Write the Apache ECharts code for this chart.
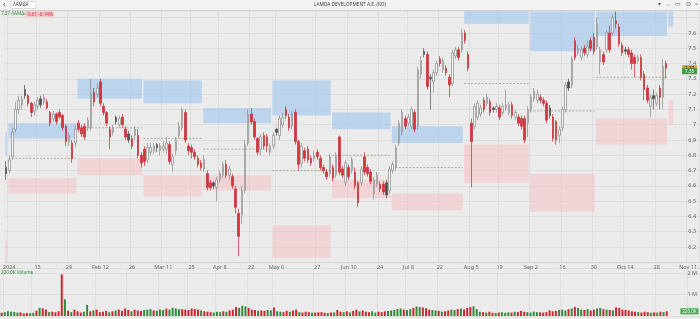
<!DOCTYPE html>
<html><head><meta charset="utf-8">
<script src="https://cdn.jsdelivr.net/npm/echarts@6/dist/echarts.min.js"></script>
<style>html,body{margin:0;padding:0;background:#ebebeb;overflow:hidden}#c{width:700px;height:319px}</style>
</head><body><div id="c"></div>
<script>
// ---- calendar (trading days, exchange holidays removed) ----
const firstDay = '2023-12-29';
const lastDay = '2024-11-14';
const holidays = ['2024-01-01','2024-03-18','2024-03-25','2024-05-01','2024-05-03','2024-05-06','2024-05-07','2024-06-24','2024-08-15'];
function tradingDays(a, b, skip) {
  const out = []; const d = new Date(a + 'T00:00:00Z'); const end = new Date(b + 'T00:00:00Z');
  while (d <= end) { const s = d.toISOString().slice(0, 10); const w = d.getUTCDay();
    if (w !== 0 && w !== 6 && skip.indexOf(s) < 0) out.push(s); d.setUTCDate(d.getUTCDate() + 1); }
  return out;
}
const dates = tradingDays(firstDay, lastDay, holidays);

// ---- x tick labels ----
const tickDates = ['2024-01-02','2024-01-15','2024-01-29','2024-02-12','2024-02-26','2024-03-11','2024-03-26','2024-04-08','2024-04-22','2024-05-08','2024-05-27','2024-06-10','2024-06-25','2024-07-08','2024-07-22','2024-08-05','2024-08-19','2024-09-02','2024-09-16','2024-09-30','2024-10-14','2024-10-28','2024-11-11'];
const tickTexts = ['2024','15','29','Feb 12','26','Mar 11','25','Apr 8','22','May 6','27','Jun 10','24','Jul 8','22','Aug 5','19','Sep 2','16','30','Oct 14','28','Nov 11'];

// ---- daily candles [open, close, low, high] ----
const candles = [
[6.72,6.68,6.64,6.76],[6.70,6.77,6.68,6.80],[6.79,6.95,6.77,6.98],[6.97,7.10,6.95,7.15],[7.10,7.16,7.07,7.19],
[7.13,7.17,7.10,7.19],[7.23,7.19,7.17,7.26],[7.19,7.14,7.12,7.20],[7.14,7.08,7.05,7.15],[7.09,7.13,7.06,7.15],
[7.12,7.16,7.10,7.18],[7.17,7.13,7.11,7.19],[7.15,7.18,7.13,7.20],[7.15,7.11,7.10,7.17],[7.08,7.01,6.99,7.09],
[7.04,7.07,7.02,7.09],[7.07,7.02,7.00,7.08],[7.08,7.05,7.04,7.10],[7.06,6.98,6.96,7.07],[6.99,6.89,6.86,7.00],
[6.89,6.93,6.86,6.95],[6.88,6.78,6.75,6.90],[6.88,6.97,6.85,7.00],[7.01,6.97,6.95,7.03],[6.98,6.94,6.92,7.00],
[6.99,6.92,6.90,7.01],[6.98,7.03,6.96,7.05],[6.98,7.20,6.96,7.30],[7.21,7.15,7.12,7.24],[7.20,7.24,7.18,7.27],
[7.28,7.14,7.12,7.30],[7.12,7.08,7.06,7.14],[7.08,7.01,6.99,7.09],[6.97,6.92,6.84,6.99],[6.95,6.98,6.93,7.00],
[7.05,7.02,7.00,7.06],[7.00,7.04,6.98,7.06],[7.05,7.00,6.98,7.07],[6.97,6.92,6.90,6.99],[6.94,6.90,6.88,6.96],
[6.91,6.86,6.84,6.93],[6.93,6.97,6.90,6.99],[6.93,6.80,6.78,6.97],[6.80,6.75,6.72,6.82],[6.84,6.76,6.73,6.86],
[6.77,6.85,6.75,6.88],[6.82,6.85,6.80,6.88],[6.83,6.86,6.81,6.88],[6.87,6.85,6.82,6.88],[6.83,6.86,6.80,6.88],
[6.84,6.86,6.82,6.89],[6.84,6.88,6.81,6.92],[6.87,6.76,6.74,6.89],[6.74,6.79,6.69,6.81],[6.83,6.90,6.80,6.92],
[6.93,6.99,6.91,7.02],[6.98,7.10,6.96,7.11],[7.08,6.90,6.88,7.10],[6.86,6.83,6.80,6.88],[6.85,6.82,6.78,6.87],
[6.82,6.79,6.77,6.84],[6.78,6.74,6.72,6.80],[6.75,6.72,6.70,6.77],[6.71,6.77,6.69,6.80],[6.68,6.59,6.57,6.70],
[6.62,6.59,6.57,6.64],[6.62,6.60,6.58,6.63],[6.59,6.64,6.50,6.66],[6.64,6.68,6.62,6.70],[6.67,6.74,6.65,6.76],
[6.74,6.67,6.65,6.77],[6.67,6.71,6.64,6.73],[6.66,6.60,6.58,6.68],[6.58,6.46,6.42,6.60],
[6.42,6.27,6.14,6.45],[6.41,6.57,6.35,6.60],[6.57,6.87,6.55,6.90],[6.88,7.07,6.86,7.10],[7.07,7.02,7.00,7.11],
[7.02,6.92,6.90,7.04],[6.91,6.82,6.80,6.92],[6.84,6.92,6.80,6.94],[6.93,6.86,6.84,6.95],[6.92,6.86,6.82,6.94],
[6.82,6.86,6.80,6.88],[6.86,6.93,6.84,6.95],[6.97,6.95,6.93,6.98],[6.93,7.04,6.90,7.06],[7.00,7.05,6.98,7.08],
[7.10,7.06,7.04,7.12],[7.05,6.98,6.96,7.07],[6.99,7.07,6.97,7.09],[7.08,6.89,6.87,7.10],[6.89,6.74,6.70,6.90],
[6.75,6.86,6.72,6.88],[6.83,6.78,6.76,6.85],[6.84,6.77,6.75,6.86],[6.78,6.75,6.73,6.80],[6.78,6.80,6.76,6.83],
[6.82,6.79,6.77,6.84],[6.78,6.72,6.70,6.80],[6.72,6.70,6.68,6.74],[6.69,6.66,6.64,6.71],[6.68,6.79,6.66,6.81],
[6.72,6.65,6.63,6.74],[6.67,6.79,6.65,6.82],[6.92,6.69,6.67,6.93],[6.71,6.67,6.65,6.73],[6.62,6.75,6.60,6.77],
[6.72,6.66,6.64,6.74],[6.70,6.77,6.68,6.79],[6.69,6.60,6.58,6.72],[6.62,6.49,6.46,6.63],[6.62,6.71,6.60,6.73],
[6.79,6.69,6.67,6.82],[6.72,6.68,6.66,6.74],[6.69,6.63,6.61,6.71],[6.55,6.64,6.51,6.66],[6.61,6.67,6.59,6.69],
[6.61,6.58,6.56,6.63],[6.61,6.56,6.54,6.63],[6.62,6.54,6.52,6.64],[6.57,6.71,6.55,6.73],[6.70,6.74,6.68,6.76],
[6.72,6.85,6.70,6.87],[6.88,7.01,6.86,7.03],[6.95,7.08,6.93,7.10],[7.04,6.99,6.97,7.06],[7.01,7.05,6.99,7.07],
[6.99,7.10,6.97,7.12],[7.08,6.97,6.95,7.10],[6.99,7.36,6.97,7.38],[7.33,7.42,7.30,7.45],
[7.48,7.46,7.44,7.50],[7.46,7.25,7.23,7.48],[7.31,7.30,7.10,7.33],[7.28,7.34,7.21,7.36],[7.34,7.40,7.32,7.42],
[7.43,7.40,7.38,7.45],[7.36,7.42,7.34,7.44],[7.37,7.34,7.32,7.39],[7.31,7.26,7.18,7.33],[7.27,7.47,7.25,7.49],
[7.45,7.49,7.43,7.51],[7.49,7.44,7.42,7.51],[7.49,7.60,7.47,7.63],[7.60,7.55,7.53,7.62],[7.46,7.37,7.35,7.48],
[7.01,6.89,6.59,7.04],[6.99,7.12,6.97,7.14],[7.05,7.14,7.03,7.16],[7.07,7.11,7.05,7.13],[7.16,7.10,7.08,7.18],
[7.14,7.18,7.12,7.20],[7.15,7.08,7.06,7.17],[7.11,7.10,7.08,7.12],[7.10,7.12,7.08,7.14],[7.11,7.05,7.03,7.13],
[7.08,7.12,7.06,7.14],[7.11,7.13,7.09,7.23],[7.08,7.13,7.06,7.15],[7.13,7.06,7.04,7.15],[7.05,7.08,7.03,7.10],
[7.05,7.01,6.99,7.07],[7.04,6.99,6.97,7.06],[7.04,6.90,6.88,7.06],[7.01,7.10,6.92,7.12],[7.10,7.18,7.08,7.20],
[7.17,7.22,7.15,7.24],[7.16,7.20,7.14,7.23],[7.18,7.16,7.14,7.20],[7.16,7.14,7.12,7.18],[7.14,7.03,7.01,7.16],
[7.11,7.06,7.04,7.13],[7.05,6.91,6.89,7.07],[7.02,6.90,6.87,7.03],[6.93,6.97,6.88,6.99],[6.98,7.10,6.96,7.12],
[7.10,7.26,7.08,7.28],[7.28,7.24,7.22,7.30],[7.26,7.43,7.24,7.45],[7.55,7.44,7.42,7.57],[7.47,7.50,7.45,7.52],
[7.44,7.49,7.42,7.51],[7.50,7.47,7.45,7.52],[7.46,7.51,7.44,7.55],[7.55,7.50,7.48,7.57],[7.57,7.48,7.46,7.60],
[7.51,7.66,7.49,7.70],[7.41,7.49,7.33,7.51],[7.46,7.41,7.39,7.48],[7.49,7.60,7.47,7.62],[7.60,7.49,7.47,7.65],
[7.60,7.70,7.58,7.72],[7.68,7.66,7.63,7.74],[7.64,7.53,7.51,7.66],[7.52,7.47,7.45,7.54],[7.49,7.48,7.46,7.51],
[7.49,7.46,7.44,7.51],[7.47,7.40,7.36,7.49],[7.44,7.40,7.31,7.46],[7.42,7.44,7.40,7.46],[7.44,7.31,7.29,7.46],
[7.33,7.23,7.16,7.35],[7.24,7.16,7.14,7.26],[7.12,7.18,7.05,7.20],[7.19,7.17,7.10,7.23],[7.14,7.19,7.12,7.21],
[7.24,7.18,7.10,7.26],[7.18,7.38,7.10,7.43],[7.40,7.37,7.30,7.42]
];
// candles drawn dark grey (filled, small move)
const darkIdx = [0,6,11,35,39,48,66,86,121,133,135,155,173,179,197,206];

// ---- daily volume (thousands of shares) ----
const volumes = [
150,180,220,200,190,160,170,120,140,130,150,
250,380,360,300, 180,200,170,220, 1950,780,
250,180,300,220,160,200, 520,
220,260,300,180,200,240,170,
220,260,300,250,350,280,220,300,260,240,
280,300,320,260,250,300,280,350,300,380,350,320,
320,300,280,350,330,300,260,
220,200,180,160,200,180,220,200,260,300,
420,380,480,450,380,
300,280,250,260,240,280,260,400,
220,200,180,240,200,260,300,180,160,200,180,150,160,170,180,150,140,160,170,
280,200,180,220,160,240,300,220,260,200,180,220,160,200,180,220,240,260,280,320,
350,300,280,320,380,450,420,400,360,
300,280,260,240,200,220,260,300,280,320,350,300,
380,420,450,320,
200,180,160,200,150,140,160,180,150,170,160,200,180,240,200,180,160,200,180,170,
160,180,260,220,240,280,300,260,320,350,
420,380,300,280,320,260,300,350,380,320,
300,280,260,400,380,300,280,260,220,200,
180,160,200,180,150,170,160,200,180,220
];

// ---- monthly zones: resistance (blue), pivot (dashed), support (pink) ----
const zoneStart = ['2023-12-29','2024-01-02','2024-02-01','2024-03-01','2024-04-01','2024-05-02','2024-06-03','2024-07-01','2024-08-01','2024-09-02','2024-10-01','2024-11-01'];
const zoneEnd   = ['2023-12-29','2024-01-31','2024-02-29','2024-03-29','2024-04-30','2024-05-31','2024-06-28','2024-07-31','2024-08-30','2024-09-30','2024-10-31','2024-11-04'];
const blueLow   = [6.80,6.91,7.17,7.14,7.01,7.06,6.97,6.88,7.66,7.48,7.58,7.64];
const blueHigh  = [6.95,7.01,7.30,7.29,7.11,7.29,7.08,6.99,7.75,7.74,7.74,7.74];
const pivot     = ['-',6.78,6.98,6.91,6.84,6.70,6.80,6.72,7.27,7.09,7.31,'-'];
const pinkLow   = [6.10,6.55,6.67,6.53,6.57,6.13,6.52,6.44,6.62,6.43,6.87,7.00];
const pinkHigh  = [6.25,6.65,6.78,6.67,6.67,6.34,6.64,6.55,6.87,6.68,7.04,7.16];

// ---- price tags on the right axis ----
const tagValues = [7.37, 7.35];
const tagColors = ['#d6a23c', '#3f9a4a'];

const ticker = 'ΛΑΜΔΑ';
const title = 'LAMDA DEVELOPMENT A.E. (KO)';

// ---------------------------------------------------------------
const FONT = 'Noto Sans';
const tickMap = {}; tickDates.forEach((d, k) => tickMap[d] = tickTexts[k]);
const isTick = (i, v) => Object.prototype.hasOwnProperty.call(tickMap, v);
const candleData = candles.map((c, i) => darkIdx.indexOf(i) >= 0
  ? { value: c, itemStyle: { color: '#4d4d4d', color0: '#4d4d4d', borderColor: '#4d4d4d', borderColor0: '#4d4d4d' } }
  : c);
const volData = volumes.map((v, i) => ({ value: v, itemStyle: { color: candles[i][1] >= candles[i][0] ? '#2f8a3a' : '#cf2430' } }));
const zoneRows = zoneStart.map((s, k) => [s, zoneEnd[k], blueLow[k], blueHigh[k], pivot[k], pinkLow[k], pinkHigh[k]]);
const lastC = candles[candles.length - 1][1], prevC = candles[candles.length - 2][1];
const chg = lastC - prevC;
const lastDate = dates[dates.length - 1];

const chart = echarts.init(document.getElementById('c'), null, { renderer: 'canvas' });
chart.setOption({
  animation: false,
  backgroundColor: '#ebebeb',
  textStyle: { fontFamily: FONT },
  grid: [
    { left: 0, right: 0, top: 2.43, bottom: 56.7 },
    { left: 0, right: 0, top: 268, bottom: 3 }
  ],
  xAxis: [
    { type: 'category', data: dates, gridIndex: 0, boundaryGap: true,
      axisLine: { show: true, lineStyle: { color: '#d0d0d0', width: 0.8 } }, axisTick: { show: false },
      axisLabel: { interval: isTick, formatter: v => tickMap[v] || '', fontSize: 5.5, color: '#6a6a6a', margin: 2, fontFamily: FONT },
      splitLine: { show: true, interval: isTick, lineStyle: { color: '#dadada', width: 0.8 } } },
    { type: 'category', data: dates, gridIndex: 1, boundaryGap: true,
      axisLine: { show: false }, axisTick: { show: false }, axisLabel: { show: false },
      splitLine: { show: true, interval: isTick, lineStyle: { color: '#dadada', width: 0.8 } } }
  ],
  yAxis: [
    { type: 'value', gridIndex: 0, position: 'right', min: 6.1, max: 7.8, interval: 0.1,
      axisLine: { show: false }, axisTick: { show: false },
      axisLabel: { inside: true, margin: 3, fontSize: 5.5, color: '#666', fontFamily: FONT,
        formatter: v => (v < 6.15 || v > 7.65) ? '' : String(+v.toFixed(1)) },
      splitLine: { lineStyle: { color: '#dcdcdc', width: 0.8 } } },
    { type: 'value', gridIndex: 1, position: 'right', min: 0, max: 2250, interval: 1000,
      axisLine: { show: false }, axisTick: { show: false },
      axisLabel: { inside: true, margin: 3, fontSize: 5.5, color: '#666', fontFamily: FONT,
        formatter: v => v === 1000 ? '1 M' : v === 2000 ? '2 M' : '' },
      splitLine: { lineStyle: { color: '#dcdcdc', width: 0.8 } } }
  ],
  series: [
    { type: 'custom', name: 'zones', xAxisIndex: 0, yAxisIndex: 0, z: 1, silent: true,
      encode: { x: [0, 1], y: [2, 3, 4, 5, 6] },
      renderItem: function (params, api) {
        const s = api.value(0), e = api.value(1);
        const bw = api.size([1, 0])[0];
        const xa = Math.max(0, api.coord([s, 7])[0] - bw / 2 + 0.7);
        const xb = api.coord([e, 7])[0] + bw / 2 - 0.7;
        const kids = [];
        const band = (lo, hi, fill) => {
          const y1 = api.coord([s, hi])[1], y2 = api.coord([s, lo])[1];
          kids.push({ type: 'rect', shape: { x: xa, y: y1, width: xb - xa, height: y2 - y1 }, style: { fill: fill } });
        };
        band(api.value(2), api.value(3), 'rgba(160,199,238,0.62)');
        band(api.value(5), api.value(6), 'rgba(246,186,190,0.48)');
        const pv = api.value(4);
        if (!isNaN(pv)) {
          const yp = api.coord([s, pv])[1];
          kids.push({ type: 'line', shape: { x1: xa, y1: yp, x2: xb, y2: yp }, style: { stroke: '#a89e88', lineWidth: 0.8, lineDash: [2, 1.5] } });
        }
        return { type: 'group', children: kids };
      },
      data: zoneRows },
    { type: 'candlestick', name: ticker, xAxisIndex: 0, yAxisIndex: 0, z: 3, barWidth: '66%',
      itemStyle: { color: '#f7f7f7', color0: '#d8343c', borderColor: '#8a8a8a', borderColor0: '#c92b34', borderWidth: 0.7 },
      data: candleData,
      markPoint: { silent: true, symbol: 'rect', symbolSize: [15, 6], symbolOffset: [-8, 0],
        data: tagValues.map((v, k) => ({ coord: [lastDate, v], itemStyle: { color: tagColors[k] },
          label: { show: true, formatter: v.toFixed(2), fontSize: 4.8, color: k === 0 ? '#3a2a00' : '#ffffff', fontFamily: FONT } })) } },
    { type: 'bar', name: 'Volume', xAxisIndex: 1, yAxisIndex: 1, barWidth: '62%', z: 3, data: volData,
      markPoint: { silent: true, symbol: 'rect', symbolSize: [18, 6], symbolOffset: [-9, 0],
        data: [{ coord: [lastDate, volumes[volumes.length - 1]], itemStyle: { color: '#45a64f' },
          label: { show: true, formatter: volumes[volumes.length - 1].toFixed(1) + 'K', fontSize: 4.5, color: '#fff', fontFamily: FONT } }] } }
  ],
  graphic: [
    { type: 'rect', z: 100, shape: { x: 0, y: 0, width: 700, height: 10 }, style: { fill: '#f2f2f2' } },
    { type: 'line', z: 101, shape: { x1: 0, y1: 10.5, x2: 700, y2: 10.5 }, style: { stroke: '#cfcfcf', lineWidth: 1 } },
    { type: 'text', z: 102, left: 3, top: 0.5, style: { text: '‹', fontSize: 8, fill: '#555', fontFamily: FONT } },
    { type: 'rect', z: 102, shape: { x: 11, y: 1.5, width: 25, height: 7 }, style: { fill: '#ffffff', stroke: '#c6c6c6', lineWidth: 0.6 } },
    { type: 'text', z: 103, left: 13, top: 2.6, style: { text: ticker, fontSize: 4.5, fill: '#333', fontFamily: FONT } },
    { type: 'text', z: 103, left: 'center', top: 2.3, style: { text: title, fontSize: 4.8, fill: '#444', fontFamily: FONT } },
    { type: 'text', z: 103, right: 2, top: 1.5, style: { text: '▾   ⇔   ▭   ⊜   ≡', fontSize: 5.5, fill: '#666', fontFamily: FONT } },
    { type: 'text', z: 103, left: 1, top: 11.5, style: { text: lastC.toFixed(2) + ' ' + ticker + '@', fontSize: 4.6, fill: '#2f8a3a', fontFamily: FONT } },
    { type: 'text', z: 103, left: 25, top: 11.2, style: { text: (chg >= 0 ? '+' : '') + chg.toFixed(2) + ' ' + (chg / prevC * 100).toFixed(2) + '%', fontSize: 4.6, fill: '#cf2430', backgroundColor: '#f6c9cc', padding: [0.5, 1.5], fontFamily: FONT } },
    { type: 'text', z: 103, left: 1, top: 270.5, style: { text: volumes[volumes.length - 1].toFixed(1) + 'K Volume', fontSize: 4.6, fill: '#2f8a3a', fontFamily: FONT } }
  ]
});
</script>
</body></html>
